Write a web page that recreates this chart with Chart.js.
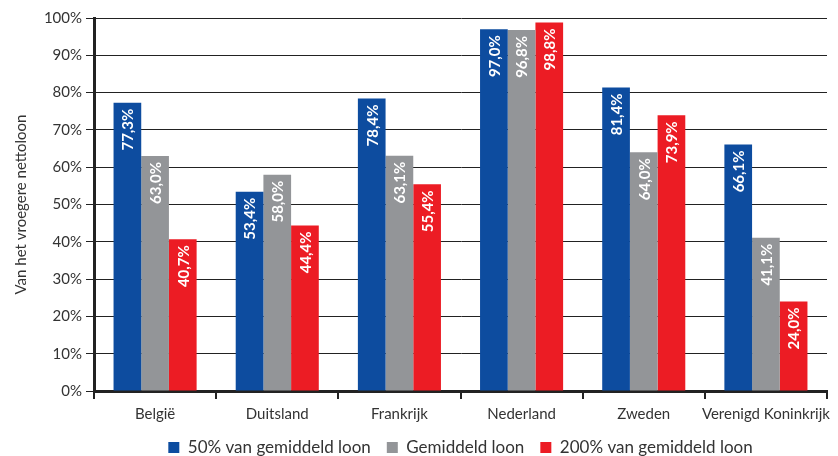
<!DOCTYPE html>
<html>
<head>
<meta charset="utf-8">
<script src="https://cdn.jsdelivr.net/npm/chart.js@4"></script>
<style>
  body { margin: 0; background: #fff; }
  #wrap { width: 838px; height: 456px; }
</style>
</head>
<body>
<div id="wrap"><canvas id="chart" width="838" height="456"></canvas></div>
<script>
const categories = ['België', 'Duitsland', 'Frankrijk', 'Nederland', 'Zweden', 'Verenigd Koninkrijk'];
const seriesNames = ['50% van gemiddeld loon', 'Gemiddeld loon', '200% van gemiddeld loon'];
const halfWage = [77.3, 53.4, 78.4, 97.0, 81.4, 66.1];
const avgWage = [63.0, 58.0, 63.1, 96.8, 64.0, 41.1];
const doubleWage = [40.7, 44.4, 55.4, 98.8, 73.9, 24.0];
const colors = ['#0d4c9f', '#939598', '#ec1c24'];

const fontFamily = 'Lato, "Open Sans", sans-serif';

function fmt(v) {
    return v.toFixed(1).replace('.', ',') + '%';
}

// white rotated labels at the top of each bar
const barLabels = {
    id: 'barLabels',
    afterDatasetsDraw(chart) {
        const ctx = chart.ctx;
        ctx.save();
        ctx.fillStyle = '#fff';
        ctx.font = 'bold 15px ' + fontFamily;
        ctx.textAlign = 'right';
        ctx.textBaseline = 'middle';
        chart.data.datasets.forEach((ds, i) => {
            chart.getDatasetMeta(i).data.forEach((bar, j) => {
                ctx.save();
                ctx.translate(bar.x, bar.y + 6);
                ctx.rotate(-Math.PI / 2);
                ctx.fillText(fmt(ds.data[j]), 0, 1);
                ctx.restore();
            });
        });
        ctx.restore();
    }
};

new Chart(document.getElementById('chart'), {
    type: 'bar',
    data: {
        labels: categories,
        datasets: [
            { label: seriesNames[0], data: halfWage, backgroundColor: colors[0] },
            { label: seriesNames[1], data: avgWage, backgroundColor: colors[1] },
            { label: seriesNames[2], data: doubleWage, backgroundColor: colors[2] }
        ]
    },
    options: {
        responsive: false,
        animation: false,
        categoryPercentage: 0.68,
        barPercentage: 1.0,
        layout: { padding: { top: 18, right: 11, left: 12, bottom: -10 } },
        plugins: {
            legend: {
                position: 'bottom',
                fullSize: false,
                labels: {
                    boxWidth: 11,
                    boxHeight: 11,
                    padding: 16,
                    color: '#333',
                    font: { family: fontFamily, size: 17 }
                }
            },
            tooltip: { enabled: false }
        },
        scales: {
            x: {
                afterFit(scale) { scale.height -= 6; },
                grid: {
                    offset: true,
                    drawOnChartArea: false,
                    color: '#222',
                    lineWidth: 2,
                    tickLength: 8
                },
                border: { color: '#222', width: 3 },
                ticks: {
                    color: '#333',
                    padding: 6,
                    maxRotation: 0,
                    minRotation: 0,
                    autoSkip: false,
                    font: { family: fontFamily, size: 15 }
                }
            },
            y: {
                min: 0,
                max: 100,
                afterFit(scale) { scale.width = 82; },
                ticks: {
                    stepSize: 10,
                    color: '#333',
                    padding: 4,
                    font: { family: fontFamily, size: 15 },
                    callback: v => v + '%'
                },
                grid: { color: '#222', lineWidth: 1, tickLength: 8 },
                border: { color: '#222', width: 3 },
                title: {
                    display: true,
                    text: 'Van het vroegere nettoloon',
                    color: '#333',
                    padding: 0,
                    font: { family: fontFamily, size: 15 }
                }
            }
        }
    },
    plugins: [barLabels]
});
</script>
</body>
</html>
